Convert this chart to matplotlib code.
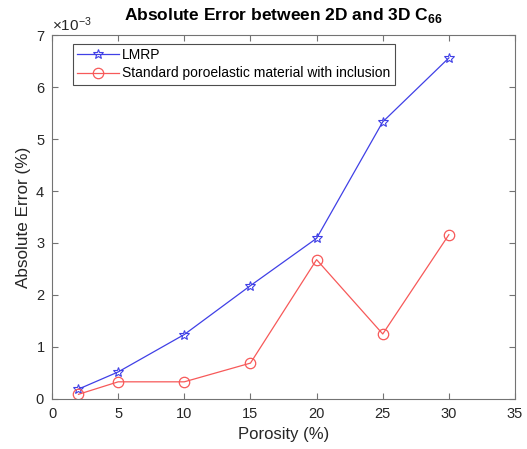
import matplotlib
matplotlib.use("Agg")
import matplotlib.pyplot as plt
from matplotlib.ticker import ScalarFormatter

plt.rcParams['font.family'] = ['Liberation Sans', 'DejaVu Sans']
plt.rcParams['mathtext.fontset'] = 'custom'
plt.rcParams['mathtext.rm'] = 'Liberation Sans'
plt.rcParams['mathtext.bf'] = 'Liberation Sans:bold'

porosity = [2, 5, 10, 15, 20, 25, 30]
lmrp_error = [0.19e-3, 0.52e-3, 1.24e-3, 2.18e-3, 3.09e-3, 5.33e-3, 6.56e-3]
inclusion_error = [0.09e-3, 0.33e-3, 0.33e-3, 0.69e-3, 2.68e-3, 1.25e-3, 3.16e-3]

x_ticks = [0, 5, 10, 15, 20, 25, 30, 35]
y_ticks = [0, 1e-3, 2e-3, 3e-3, 4e-3, 5e-3, 6e-3, 7e-3]

text_color = (0.15, 0.15, 0.15)
edge = (0.45, 0.45, 0.45)
blue = (0.25, 0.25, 0.9)
red = (0.97, 0.35, 0.35)

fig = plt.figure(figsize=(5.27, 4.49), dpi=100)
ax = fig.add_axes([0.0987, 0.1114, 0.8786, 0.8106])

ax.plot(porosity, lmrp_error, color=blue, lw=0.9,
        marker='*', ms=7.5, mfc='none', mec=blue, mew=0.8,
        label='LMRP')
ax.plot(porosity, inclusion_error, color=red, lw=0.9,
        marker='o', ms=7.5, mfc='none', mec=red, mew=0.9,
        label='Standard poroelastic material with inclusion')

ax.set_xlim(0, 35)
ax.set_ylim(0, 7e-3)
ax.set_xticks(x_ticks)
ax.set_yticks(y_ticks)

fmt = ScalarFormatter(useMathText=True)
fmt.set_powerlimits((-2, 2))
ax.yaxis.set_major_formatter(fmt)

for s in ax.spines.values():
    s.set_color(edge)
    s.set_linewidth(0.8)
ax.tick_params(direction='in', top=True, right=True, length=4,
               width=0.8, color=edge, labelsize=10.5, labelcolor=text_color)
ax.tick_params(axis='x', pad=6)
ax.tick_params(axis='y', pad=5)
off = ax.yaxis.get_offset_text()
off.set_fontsize(11)
off.set_color(text_color)

ax.set_xlabel('Porosity (%)', fontsize=12, color=text_color, labelpad=4)
ax.set_ylabel('Absolute Error (%)', fontsize=12.3, color=text_color, labelpad=3)
ax.set_title('Absolute Error between 2D and 3D C$_{\\mathbf{66}}$',
             fontsize=12.5, fontweight='bold', pad=11)

leg = ax.legend(loc='upper left', bbox_to_anchor=(0.045, 0.975),
                fontsize=10, handlelength=3.0, borderpad=0.3,
                labelspacing=0.3, handletextpad=0.25, borderaxespad=0.0,
                fancybox=False, framealpha=1)
leg.get_frame().set_edgecolor((0.3, 0.3, 0.3))
leg.get_frame().set_linewidth(0.8)

fig.savefig('out.png', dpi=100)
